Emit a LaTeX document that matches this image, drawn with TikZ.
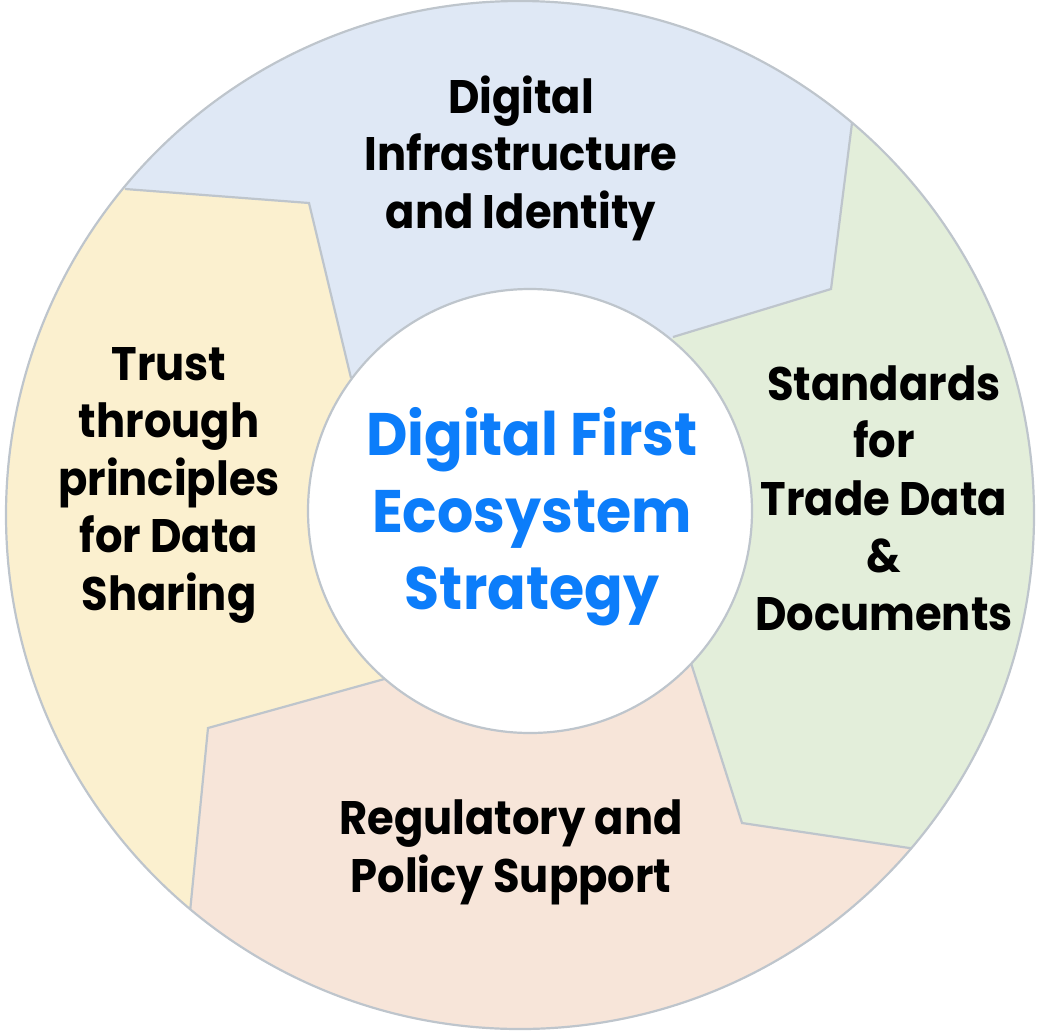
\documentclass[tikz,border=0pt]{standalone}
\usepackage{fontspec}
\newfontfamily\labfont{Poppins}[FakeStretch=0.92]
\newfontfamily\mainfont{Poppins}[FakeStretch=0.95]
\definecolor{segblue}{RGB}{223,232,245}
\definecolor{seggreen}{RGB}{227,238,218}
\definecolor{segyellow}{RGB}{251,240,207}
\definecolor{segpink}{RGB}{247,229,217}
\definecolor{edgegray}{RGB}{190,197,204}
\definecolor{centerblue}{RGB}{12,125,250}
\tikzset{
  edge/.style={draw=edgegray, line width=2.2pt, line join=miter},
  lab/.style={align=center, text=black, inner sep=0pt, anchor=base,
    font={\labfont\bfseries\fontsize{47}{57.5}\selectfont}},
  mainlab/.style={align=center, text=centerblue, inner sep=0pt, anchor=base,
    font={\mainfont\bfseries\fontsize{60}{77}\selectfont}}
}
\begin{document}
\begin{tikzpicture}[x=1pt,y=-1pt]
\path[use as bounding box] (0,0) rectangle (1038,1031);
\coordinate (O) at (520,515);
\coordinate (C) at (530,511);
% boundary points
\coordinate (a1) at (125,189); \coordinate (a2) at (309,203); \coordinate (a3) at (351,378);
\coordinate (b1) at (852,123); \coordinate (b2) at (831,289); \coordinate (b3) at (673,337);
\coordinate (c1) at (916,849); \coordinate (c2) at (742,823); \coordinate (c3) at (691,663);
\coordinate (d1) at (190,912); \coordinate (d2) at (208,728); \coordinate (d3) at (388,678);
\begin{scope}
  \clip (O) circle[radius=514];
  \fill[segblue] (O) circle[radius=520];
  \fill[segyellow] (C) -- (a3) -- (a2) -- (a1) -- (-270,-137) -- (-600,515) -- (-140,1309) -- (d1) -- (d2) -- (d3) -- cycle;
  \fill[seggreen] (C) -- (b3) -- (b2) -- (b1) -- (1184,-269) -- (1600,515) -- (1312,1183) -- (c1) -- (c2) -- (c3) -- cycle;
  \fill[segpink] (C) -- (c3) -- (c2) -- (c1) -- (1312,1183) -- (520,1700) -- (-140,1309) -- (d1) -- (d2) -- (d3) -- cycle;
  \draw[edge] (a1) -- (a2) -- (a3);
  \draw[edge] (b1) -- (b2) -- (b3);
  \draw[edge] (c1) -- (c2) -- (c3);
  \draw[edge] (d1) -- (d2) -- (d3);
\end{scope}
\draw[edgegray, line width=2.2pt] (O) circle[radius=514];
\draw[edgegray, line width=2.2pt, fill=white] (C) circle[radius=222];
% labels (anchor base = baseline of last line)
\node[lab] (top) at (521,228) {Digital\\Infrastructure\\and Identity};
\node[lab] (right) at (884,630) {Standards\\for\\Trade Data\\\&\\Documents};
\node[lab] (left) at (169,610) {Trust\\through\\principles\\for Data\\Sharing};
\node[lab] (bottom) at (511,892) {Regulatory and\\Policy Support};
\node[mainlab] (center) at (532,609) {Digital First\\Ecosystem\\Strategy};
\end{tikzpicture}
\end{document}
